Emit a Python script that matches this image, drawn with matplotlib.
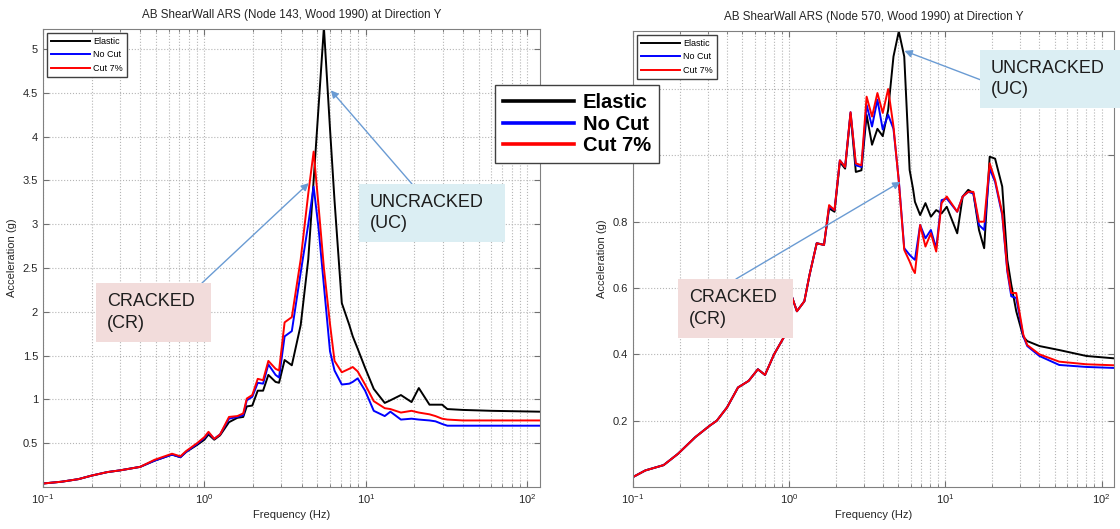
import numpy as np
import matplotlib.pyplot as plt
from matplotlib.patches import Rectangle
from matplotlib.lines import Line2D
from matplotlib.ticker import LogLocator, NullFormatter, FuncFormatter

plt.rcParams['font.family'] = ['Liberation Sans', 'DejaVu Sans']

# ---- Node 143 (left) ----
freq_143 = [0.1, 0.13, 0.166, 0.2, 0.25, 0.3, 0.4, 0.49, 0.63, 0.71, 0.77, 0.9, 1.0, 1.06,
            1.15, 1.25, 1.42, 1.6, 1.74, 1.83, 1.98, 2.14, 2.31, 2.49, 2.76, 2.9, 3.14, 3.48,
            3.95, 4.4, 4.75, 5.1, 5.5, 6.0, 6.4, 7.1, 7.9, 8.3, 8.9, 9.9, 11.2, 13.1, 14.2,
            16.5, 19.2, 21.3, 24.8, 27, 29.7, 32, 40, 60, 120]
elastic_143 = [0.04, 0.06, 0.09, 0.13, 0.17, 0.19, 0.23, 0.30, 0.37, 0.34, 0.40, 0.48, 0.54, 0.60,
               0.54, 0.59, 0.74, 0.79, 0.80, 0.92, 0.93, 1.10, 1.10, 1.28, 1.20, 1.19, 1.45, 1.39,
               1.85, 2.6, 3.5, 4.35, 5.25, 4.09, 3.27, 2.1, 1.85, 1.72, 1.58, 1.36, 1.12, 0.96, 0.99,
               1.05, 0.97, 1.13, 0.94, 0.94, 0.94, 0.89, 0.88, 0.87, 0.86]
nocut_143 = [0.04, 0.06, 0.09, 0.13, 0.17, 0.19, 0.23, 0.30, 0.37, 0.34, 0.40, 0.49, 0.56, 0.62,
             0.55, 0.60, 0.78, 0.80, 0.82, 0.99, 1.03, 1.19, 1.18, 1.40, 1.28, 1.25, 1.72, 1.78,
             2.45, 3.0, 3.43, 2.95, 2.3, 1.55, 1.33, 1.17, 1.18, 1.20, 1.24, 1.10, 0.87, 0.81, 0.86,
             0.77, 0.78, 0.77, 0.76, 0.75, 0.72, 0.70, 0.70, 0.70, 0.70]
cut7_143 = [0.04, 0.06, 0.09, 0.13, 0.17, 0.19, 0.23, 0.31, 0.38, 0.35, 0.41, 0.50, 0.57, 0.63,
            0.55, 0.60, 0.80, 0.81, 0.84, 1.01, 1.05, 1.235, 1.22, 1.44, 1.35, 1.33, 1.88, 1.94,
            2.6, 3.35, 3.83, 3.2, 2.5, 1.86, 1.44, 1.31, 1.35, 1.37, 1.32, 1.17, 0.98, 0.90, 0.89,
            0.85, 0.87, 0.85, 0.83, 0.81, 0.78, 0.77, 0.76, 0.76, 0.76]

# ---- Node 570 (right) ----
freq_570 = [0.1, 0.12, 0.157, 0.194, 0.25, 0.31, 0.344, 0.40, 0.47, 0.55, 0.63, 0.70, 0.80, 0.92,
            1.03, 1.12, 1.25, 1.35, 1.5, 1.67, 1.80, 1.95, 2.11, 2.28, 2.47, 2.67, 2.9, 3.13,
            3.39, 3.67, 3.97, 4.30, 4.65, 5.03, 5.45, 5.9, 6.2, 6.38, 6.89, 7.45, 8.07, 8.73,
            9.45, 10.2, 11.9, 12.9, 14.0, 15.1, 16.4, 17.7, 19.2, 20.8, 23.1, 24.9, 26.4, 28.4,
            31.5, 33.4, 40, 53.5, 80, 120]
low_570 = [0.03, 0.05, 0.066, 0.10, 0.15, 0.185, 0.20, 0.24, 0.30, 0.32, 0.355, 0.338, 0.40, 0.45,
           0.58, 0.53, 0.56, 0.64, 0.735, 0.73]
elastic_570 = low_570 + [0.84, 0.83, 0.98, 0.96, 1.125, 0.95, 0.955, 1.122, 1.032, 1.08, 1.058,
                         1.137, 1.298, 1.374, 1.298, 0.956, 0.90, 0.86, 0.82, 0.856, 0.815, 0.835,
                         0.825, 0.845, 0.765, 0.876, 0.896, 0.886, 0.775, 0.72, 0.996, 0.99, 0.906,
                         0.685, 0.61, 0.53, 0.453, 0.44, 0.425, 0.413, 0.395, 0.388]
nocut_570 = low_570 + [0.845, 0.835, 0.985, 0.965, 1.13, 0.97, 0.965, 1.152, 1.087, 1.168, 1.078,
                       1.122, 1.08, 0.925, 0.72, 0.70, 0.69, 0.685, 0.79, 0.75, 0.775, 0.72,
                       0.865, 0.87, 0.83, 0.876, 0.89, 0.885, 0.79, 0.775, 0.96, 0.92, 0.82,
                       0.65, 0.575, 0.57, 0.455, 0.425, 0.395, 0.368, 0.362, 0.359]
cut7_570 = low_570 + [0.85, 0.835, 0.985, 0.965, 1.13, 0.976, 0.97, 1.177, 1.117, 1.188, 1.128,
                      1.20, 1.087, 0.921, 0.715, 0.68, 0.655, 0.645, 0.79, 0.725, 0.765, 0.71,
                      0.856, 0.876, 0.83, 0.876, 0.89, 0.89, 0.80, 0.80, 0.976, 0.926, 0.826,
                      0.655, 0.585, 0.585, 0.46, 0.428, 0.40, 0.378, 0.37, 0.367]

labels = ["Elastic", "No Cut", "Cut 7%"]
colors = ["black", "blue", "red"]

W, H = 1120, 529
fig = plt.figure(figsize=(W / 100, H / 100), dpi=100)

def fx(x):
    return x / W

def fy(y):
    return 1 - y / H

axL = fig.add_axes([fx(43), fy(487), fx(540) - fx(43), fy(29) - fy(487)])
axR = fig.add_axes([fx(633), fy(487), fx(1114) - fx(633), fy(31) - fy(487)])

def style(ax, title, ymax, yticks, hide_above=None):
    ax.set_xscale('log')
    ax.set_xlim(0.1, 120)
    ax.set_ylim(0, ymax)
    ax.set_yticks(yticks)
    # labels above hide_above sit behind the big legend in the original
    ax.yaxis.set_major_formatter(FuncFormatter(
        lambda v, p: '' if (hide_above is not None and v > hide_above) else f'{v:g}'))
    ax.xaxis.set_minor_locator(LogLocator(base=10, subs=np.arange(2, 10), numticks=20))
    ax.xaxis.set_minor_formatter(NullFormatter())
    ax.grid(True, which='major', axis='both', ls=':', color='#b5b5b5', lw=0.8)
    ax.grid(True, which='minor', axis='x', ls=':', color='#b5b5b5', lw=0.8)
    ax.tick_params(which='both', direction='in', top=True, right=True, color='#707070',
                   labelcolor='#262626', labelsize=8)
    ax.tick_params(which='major', length=4)
    ax.tick_params(which='minor', length=2.5)
    for s in ax.spines.values():
        s.set_color('#808080')
    ax.set_title(title, fontsize=8.4, color='#262626', pad=8)
    ax.set_xlabel("Frequency (Hz)", fontsize=8, color='#262626', labelpad=3)
    ax.set_ylabel("Acceleration (g)", fontsize=8, color='#262626', labelpad=4)

for ax, f, series in [(axL, freq_143, [elastic_143, nocut_143, cut7_143]),
                      (axR, freq_570, [elastic_570, nocut_570, cut7_570])]:
    for vals, lab, c in zip(series, labels, colors):
        ax.plot(f, vals, color=c, lw=1.4, label=lab)
    ax.legend(loc='upper left', fontsize=6.5, handlelength=4.4, fancybox=False,
              edgecolor='#404040', framealpha=1, borderaxespad=0.4, labelspacing=0.5,
              borderpad=0.45, handletextpad=0.3)

style(axL, "AB ShearWall ARS (Node 143, Wood 1990) at Direction Y", 5.23,
      [0.5, 1, 1.5, 2, 2.5, 3, 3.5, 4, 4.5, 5])
style(axR, "AB ShearWall ARS (Node 570, Wood 1990) at Direction Y", 1.375,
      [0.2, 0.4, 0.6, 0.8, 1.0, 1.2], hide_above=0.9)

# big legend over the middle
handles = [Line2D([], [], color=c, lw=2.6) for c in colors]
fig.legend(handles, labels, loc='upper left', bbox_to_anchor=(fx(495), fy(85)),
           prop={'size': 14.5, 'weight': 'bold'}, handlelength=3.5, fancybox=False,
           edgecolor='#404040', framealpha=1, borderaxespad=0, labelspacing=0.13,
           borderpad=0.4, handletextpad=0.45)

# annotation boxes: (axes, x0, y0, x1, y1, text, colour, arrow start px, arrow target data)
arrow_col = '#6a9bd3'
boxes = [
    (axL, 359, 184, 505, 242, "UNCRACKED\n(UC)", '#dbeef3', (412, 184), (6.07, 4.53)),
    (axL, 96, 283, 211, 342, "CRACKED\n(CR)", '#f2dcdb', (202, 283), (4.43, 3.47)),
    (axR, 980, 50, 1120, 108, "UNCRACKED\n(UC)", '#dbeef3', (981, 80), (5.47, 1.315)),
    (axR, 678, 279, 793, 338, "CRACKED\n(CR)", '#f2dcdb', (736, 279), (5.15, 0.92)),
]
for ax, x0, y0, x1, y1, txt, col, start, target in boxes:
    ax.annotate('', xy=target, xycoords='data', xytext=(fx(start[0]), fy(start[1])),
                textcoords='figure fraction', annotation_clip=False,
                arrowprops=dict(arrowstyle='-|>', color=arrow_col, lw=1.0,
                                shrinkA=0, shrinkB=0, mutation_scale=11))
    fig.add_artist(Rectangle((fx(x0), fy(y1)), fx(x1) - fx(x0), fy(y0) - fy(y1),
                             transform=fig.transFigure, facecolor=col, edgecolor='none',
                             zorder=2))
    fig.text(fx(x0 + 11), fy((y0 + y1) / 2), txt, fontsize=13, color='#1e1e1e',
             ha='left', va='center', linespacing=1.35, zorder=3)

fig.savefig("out.png", dpi=100)
